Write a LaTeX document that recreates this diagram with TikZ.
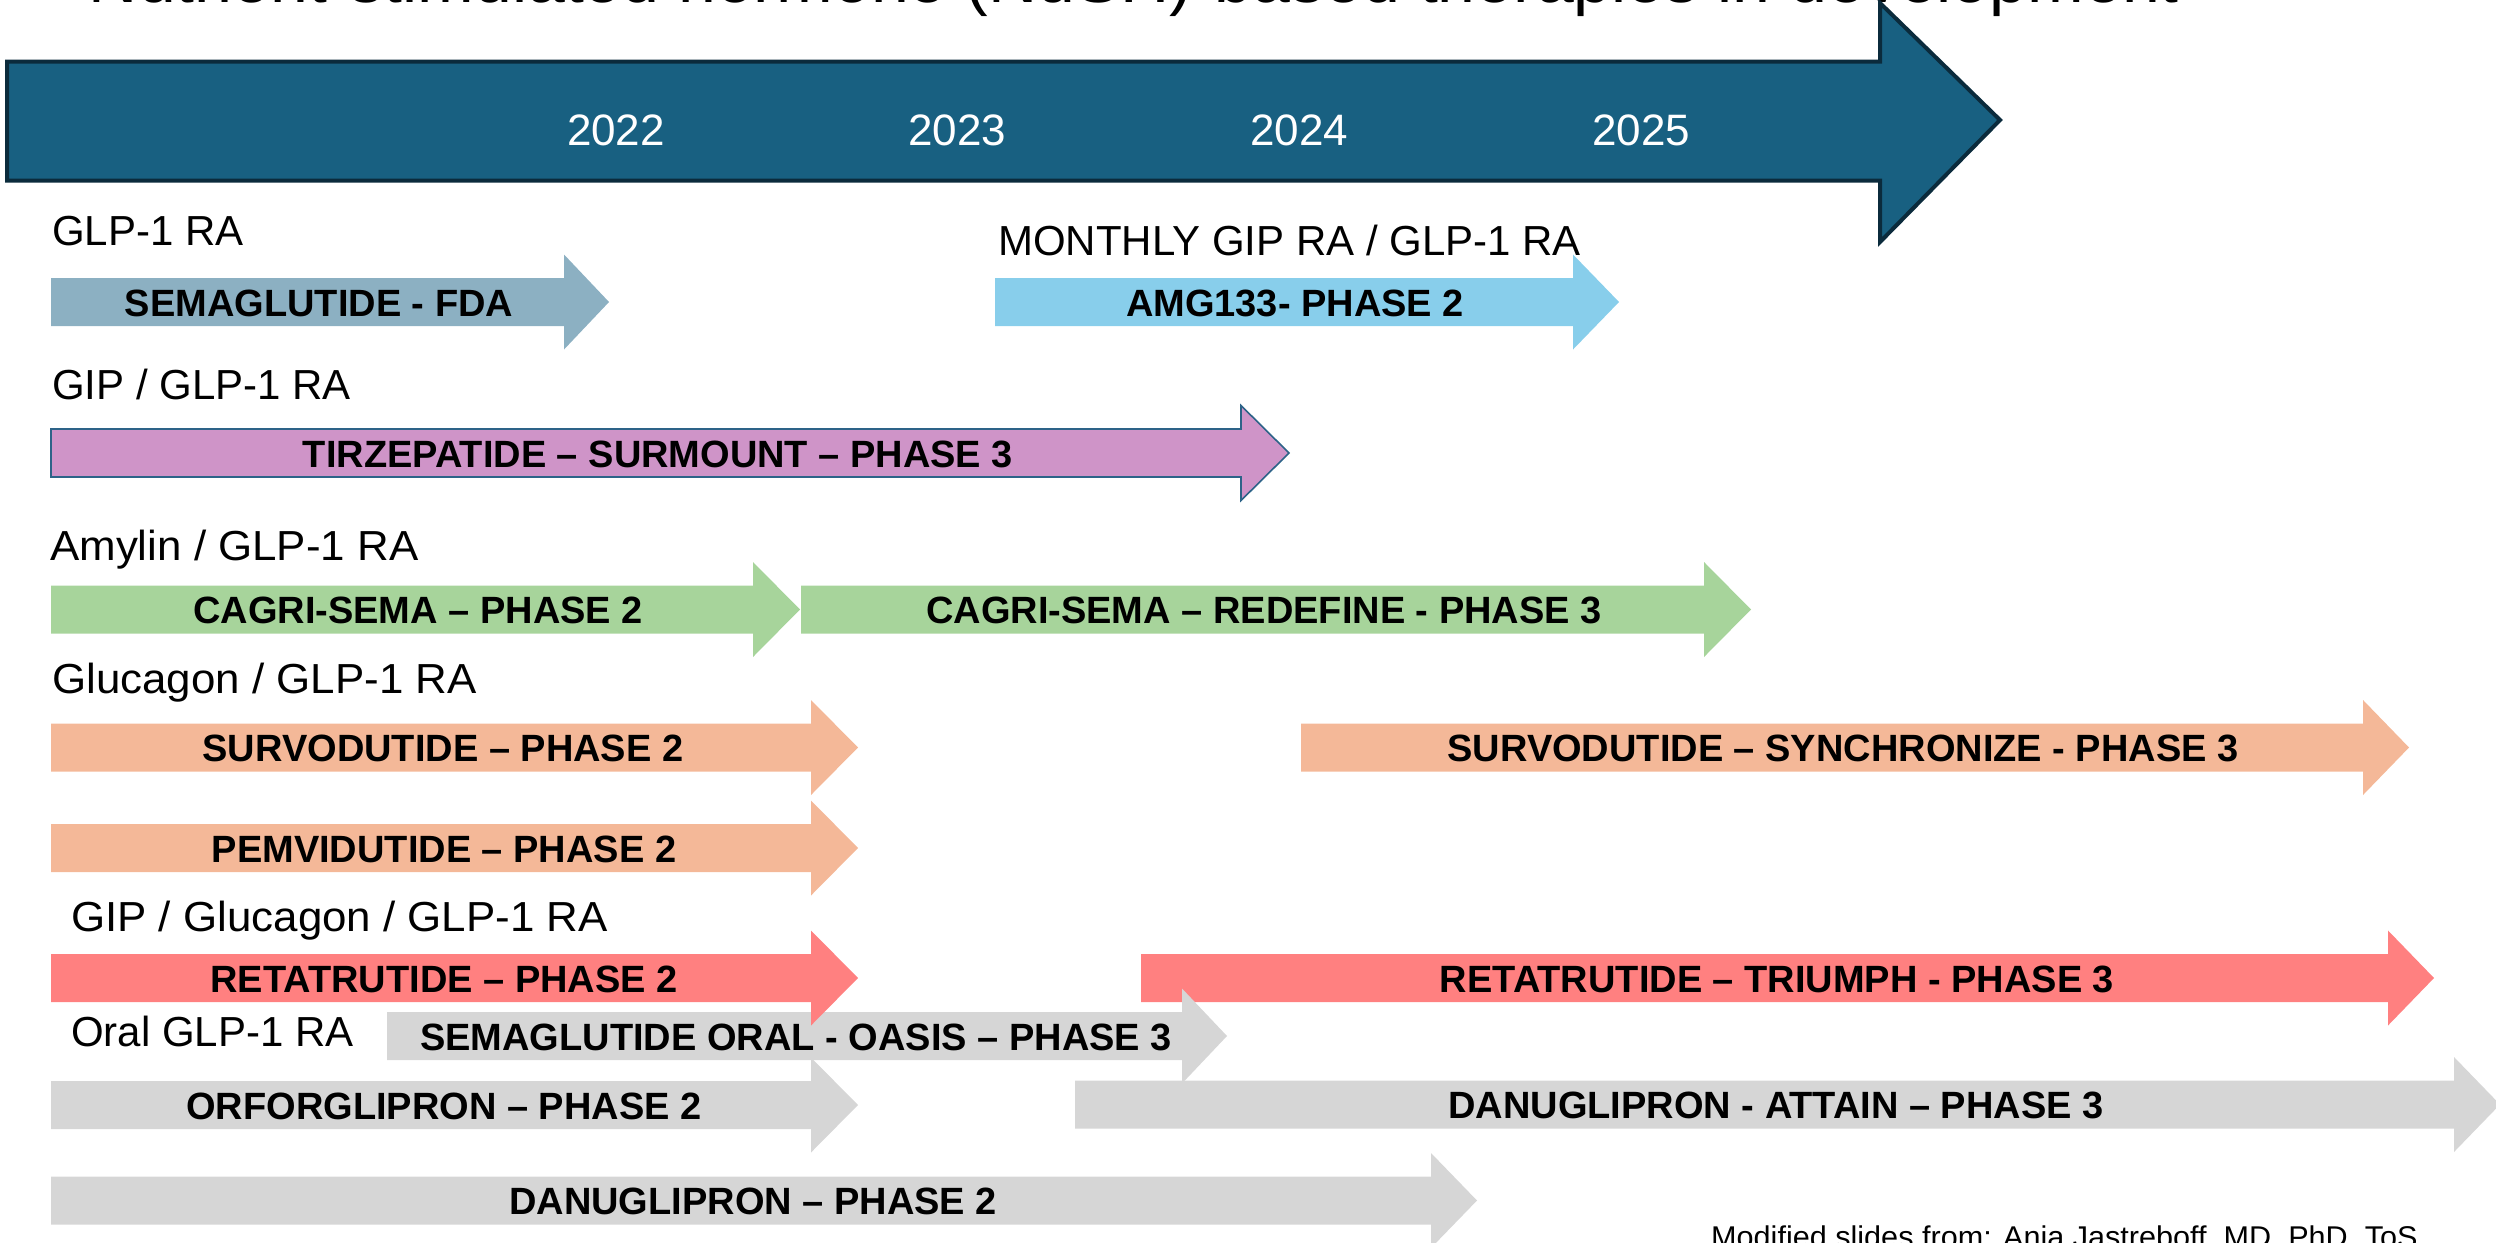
\documentclass[tikz,border=0pt]{standalone}
\usepackage{fontspec}
\setmainfont{Liberation Sans}

\definecolor{timeline}{HTML}{186081}
\definecolor{timeedge}{HTML}{0B2B3C}
\definecolor{semafda}{HTML}{8CB0C2}
\definecolor{amgblue}{HTML}{88CEEB}
\definecolor{tirzpink}{HTML}{CF94C8}
\definecolor{tirzedge}{HTML}{2D6388}
\definecolor{cagrigreen}{HTML}{A7D49B}
\definecolor{survosalmon}{HTML}{F4B898}
\definecolor{retared}{HTML}{FF8080}
\definecolor{oralgray}{HTML}{D6D6D6}

% block arrow: x start, head base x, tip x, centre y, style
\newcommand\blockarrow[5]{%
  \path[#5] (#1,#4-24) -- (#2,#4-24) -- (#2,#4-47.5) -- (#3,#4)
    -- (#2,#4+47.5) -- (#2,#4+24) -- (#1,#4+24) -- cycle;}
% slightly widened heading text
\newcommand\widertext[1]{\scalebox{1.045}[1]{#1}}

\begin{document}
\begin{tikzpicture}[x=1pt,y=-1pt,
  classlab/.style={anchor=base west, inner sep=0pt, font=\fontsize{42}{48}\selectfont},
  barlab/.style={anchor=base, inner sep=0pt, font=\fontsize{38}{44}\selectfont\bfseries},
  yearlab/.style={anchor=base, inner sep=0pt, text=white, font=\fontsize{44}{50}\selectfont}]
\useasboundingbox (0,0) rectangle (2496,1242);
\clip (0,0) rectangle (2496,1242);

% title, running off the top edge
\node[anchor=base, inner sep=0pt, font=\fontsize{68}{80}\selectfont] (title)
  at (1134,2) {Nutrient-stimulated hormone (NuSH)-based therapies in development};

% main timeline arrow
\path[fill=timeline, draw=timeedge, line width=4pt, line join=miter]
  (7,61.5) -- (1880,61.5) -- (1880,3) -- (2000,120) -- (1880,242)
  -- (1880,180.5) -- (7,180.5) -- cycle;
\node[yearlab] (y2022) at (616,145) {2022};
\node[yearlab] (y2023) at (957,145) {2023};
\node[yearlab] (y2024) at (1299,145) {2024};
\node[yearlab] (y2025) at (1641,145) {2025};

% class headings
\node[classlab] (glp)      at (52,245)   {GLP-1 RA};
\node[classlab] (monthly)  at (998,255)  {MONTHLY GIP RA / GLP-1 RA};
\node[classlab] (gipglp)   at (52,399)   {GIP / GLP-1 RA};
\node[classlab] (amylin)   at (50,560)   {\widertext{Amylin / GLP-1 RA}};
\node[classlab] (glucagon) at (52,693)   {\widertext{Glucagon / GLP-1 RA}};
\node[classlab] (triple)   at (71,931)   {\widertext{GIP / Glucagon / GLP-1 RA}};
\node[classlab] (oral)     at (71,1046)  {Oral GLP-1 RA};

% programme arrows
\blockarrow{51}{564}{609}{302}{fill=semafda}
\blockarrow{995}{1573}{1619}{302}{fill=amgblue}
\blockarrow{51}{1241}{1289}{453}{fill=tirzpink, draw=tirzedge, line width=1.6pt}
\blockarrow{51}{753}{800}{609.5}{fill=cagrigreen}
\blockarrow{801}{1704}{1751}{609.5}{fill=cagrigreen}
\blockarrow{51}{811}{858}{747.5}{fill=survosalmon}
\blockarrow{1301}{2363}{2409}{747.5}{fill=survosalmon}
\blockarrow{51}{811}{858}{848}{fill=survosalmon}
\blockarrow{1141}{2388}{2434}{978}{fill=retared}
\blockarrow{1075}{2454}{2500}{1104.5}{fill=oralgray}
\blockarrow{387}{1182}{1227}{1036}{fill=oralgray}
\blockarrow{51}{811}{858}{978}{fill=retared}
\blockarrow{51}{811}{858}{1105}{fill=oralgray}
\blockarrow{51}{1431}{1477}{1200.5}{fill=oralgray}

% programme labels
\node[barlab] (semafdaL)  at (319,316)    {SEMAGLUTIDE - FDA};
\node[barlab] (amgL)      at (1295,316)   {AMG133- PHASE 2};
\node[barlab] (tirzL)     at (658,467)    {TIRZEPATIDE – SURMOUNT – PHASE 3};
\node[barlab] (cagriL)    at (418,623.5)  {CAGRI-SEMA – PHASE 2};
\node[barlab] (redefineL) at (1264,623.5) {CAGRI-SEMA – REDEFINE - PHASE 3};
\node[barlab] (survoL)    at (443,761.5)  {SURVODUTIDE – PHASE 2};
\node[barlab] (synchL)    at (1843,761.5) {SURVODUTIDE – SYNCHRONIZE - PHASE 3};
\node[barlab] (pemviL)    at (444,862)    {PEMVIDUTIDE – PHASE 2};
\node[barlab] (retaL)     at (444,992)    {RETATRUTIDE – PHASE 2};
\node[barlab] (triumphL)  at (1777,992)   {RETATRUTIDE – TRIUMPH - PHASE 3};
\node[barlab] (oasisL)    at (796,1050)   {SEMAGLUTIDE ORAL - OASIS – PHASE 3};
\node[barlab] (orforL)    at (444,1119)   {ORFORGLIPRON – PHASE 2};
\node[barlab] (attainL)   at (1776,1118.5) {DANUGLIPRON - ATTAIN – PHASE 3};
\node[barlab] (danuL)     at (753,1214.5) {DANUGLIPRON – PHASE 2};

% source note, running off the bottom edge
\node[anchor=base west, inner sep=0pt, font=\fontsize{30}{36}\selectfont] (source)
  at (1711,1247) {\scalebox{1.02}[1]{Modified slides from: Ania Jastreboff, MD, PhD, ToS}};
\end{tikzpicture}
\end{document}
